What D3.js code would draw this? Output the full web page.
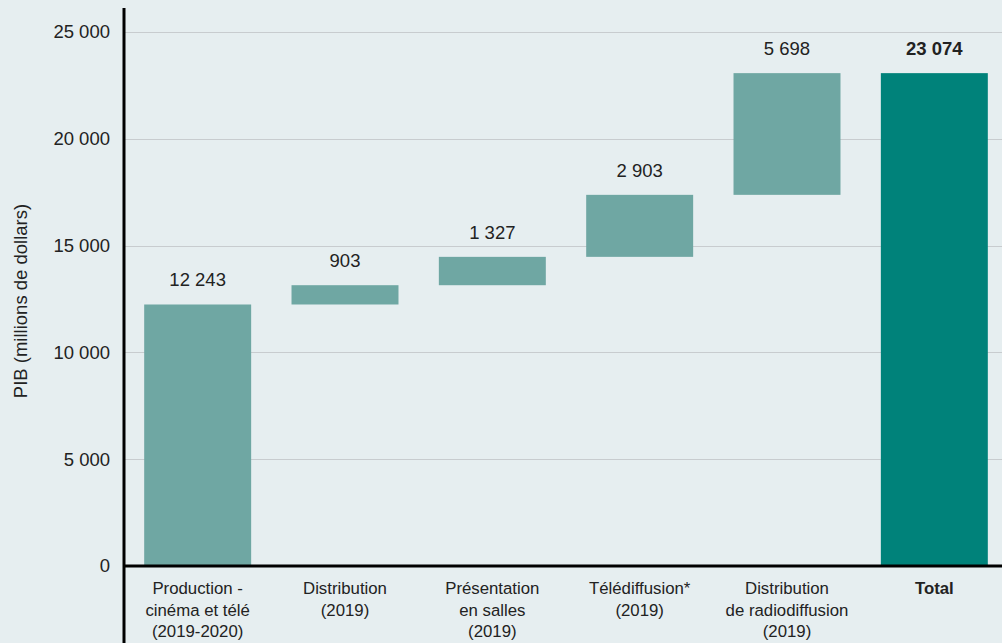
<!DOCTYPE html>
<html>
<head>
<meta charset="utf-8">
<script src="https://cdn.jsdelivr.net/npm/d3@7"></script>
<style>
  body { margin: 0; background: #e6eef0; }
  svg { display: block; font-family: 'Liberation Sans', Arial, sans-serif; }
</style>
</head>
<body>
<svg width="1002" height="643"></svg>
<script>
const categories = [
  ['Production -', 'cinéma et télé', '(2019-2020)'],
  ['Distribution', '(2019)'],
  ['Présentation', 'en salles', '(2019)'],
  ['Télédiffusion*', '(2019)'],
  ['Distribution', 'de radiodiffusion', '(2019)'],
  ['Total']
];
const values = [12243, 903, 1327, 2903, 5698];
const yTicks = [0, 5000, 10000, 15000, 20000, 25000];
const totalValue = 23074;

const svg = d3.select('svg');
const width = 1002;
const height = 643;
const left = 124;
const bottom = 566;

const fmt = v => d3.format(',')(v).replace(/,/g, ' ');

// build waterfall rows
let running = 0;
const rows = values.map((v, i) => {
  const row = {i: i, start: running, end: running + v, value: v, total: false};
  running += v;
  return row;
});
rows.push({i: values.length, start: 0, end: totalValue, value: totalValue, total: true});

const xScale = d3.scaleBand()
    .domain(d3.range(categories.length))
    .range([left, 1008])
    .paddingInner(0.274)
    .paddingOuter(0.137);
const yScale = d3.scaleLinear()
    .domain([0, 25000])
    .range([bottom, 32]);

svg.append('rect')
    .attr('width', width)
    .attr('height', height)
    .attr('fill', '#e6eef0');

// gridlines
svg.append('g')
    .selectAll('line')
    .data(yTicks.filter(t => t > 0))
    .join('line')
    .attr('x1', left)
    .attr('x2', width)
    .attr('y1', d => Math.round(yScale(d)) + 0.5)
    .attr('y2', d => Math.round(yScale(d)) + 0.5)
    .attr('stroke', '#c8cccf')
    .attr('stroke-width', 1);

// y tick labels
svg.append('g')
    .selectAll('text')
    .data(yTicks)
    .join('text')
    .attr('x', 110)
    .attr('y', d => yScale(d))
    .attr('dy', '0.35em')
    .attr('text-anchor', 'end')
    .attr('font-size', 18.5)
    .attr('fill', '#222')
    .text(fmt);

// bars
svg.append('g')
    .selectAll('rect')
    .data(rows)
    .join('rect')
    .attr('x', d => xScale(d.i))
    .attr('width', xScale.bandwidth())
    .attr('y', d => yScale(d.end))
    .attr('height', d => yScale(d.start) - yScale(d.end))
    .attr('fill', d => d.total ? '#00827a' : '#6fa7a3');

// value labels
svg.append('g')
    .selectAll('text')
    .data(rows)
    .join('text')
    .attr('x', d => xScale(d.i) + xScale.bandwidth() / 2)
    .attr('y', d => yScale(d.end) - 18)
    .attr('text-anchor', 'middle')
    .attr('font-size', 18.5)
    .attr('font-weight', d => d.total ? 'bold' : 'normal')
    .attr('fill', '#222')
    .text(d => fmt(d.value));

// axes lines
svg.append('line')
    .attr('x1', left).attr('x2', width)
    .attr('y1', bottom).attr('y2', bottom)
    .attr('stroke', '#000').attr('stroke-width', 3);
svg.append('line')
    .attr('x1', left).attr('x2', left)
    .attr('y1', 8).attr('y2', height)
    .attr('stroke', '#000').attr('stroke-width', 3);

// category labels
const catG = svg.append('g')
    .selectAll('text')
    .data(categories)
    .join('text')
    .attr('x', (d, i) => xScale(i) + xScale.bandwidth() / 2)
    .attr('y', 594)
    .attr('text-anchor', 'middle')
    .attr('font-size', 16.8)
    .attr('font-weight', (d, i) => i === categories.length - 1 ? 'bold' : 'normal')
    .attr('fill', '#222');
catG.each(function(lines) {
  const t = d3.select(this);
  const x = t.attr('x');
  lines.forEach((line, k) => {
    t.append('tspan')
        .attr('x', x)
        .attr('dy', k === 0 ? 0 : 21.5)
        .text(line);
  });
});

// y axis title
svg.append('text')
    .attr('transform', 'translate(27, 301) rotate(-90)')
    .attr('text-anchor', 'middle')
    .attr('font-size', 18.5)
    .attr('fill', '#222')
    .text('PIB (millions de dollars)');
</script>
</body>
</html>
